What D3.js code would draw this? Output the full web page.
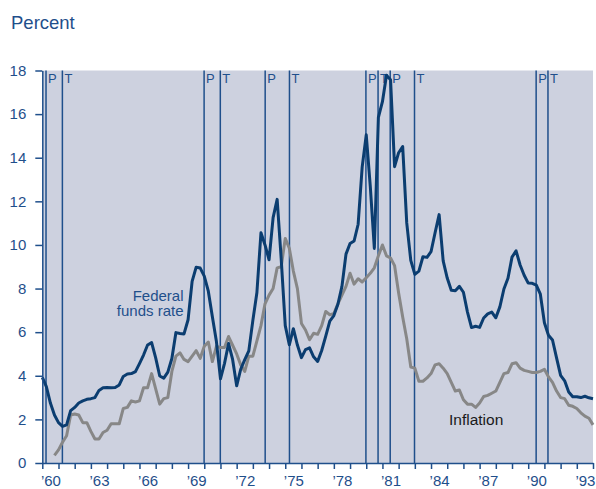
<!DOCTYPE html>
<html>
<head>
<meta charset="utf-8">
<script src="https://cdn.jsdelivr.net/npm/d3@7"></script>
<style>
  body { margin: 0; background: #fff; }
  svg { font-family: "Liberation Sans", Arial, Helvetica, sans-serif; }
</style>
</head>
<body>
<script>
// Quarterly federal funds rate, first point at 1960 Q1, last point at start of 1994.
const fundsStart = 1960;
const fundsRate = [
  3.93, 3.5, 2.75, 2.2,   1.85, 1.68, 1.75, 2.4,
  2.55, 2.75, 2.85, 2.92, 2.95, 3.0, 3.33, 3.45,
  3.46, 3.45, 3.46, 3.58, 3.97, 4.08, 4.1, 4.19,
  4.56, 4.95, 5.41, 5.52, 4.82, 3.99, 3.89, 4.17,
  4.79, 5.98, 5.94, 5.92, 6.57, 8.33, 8.98, 8.94,
  8.57, 7.88, 6.71, 5.57, 3.86, 4.57, 5.48, 4.75,
  3.54, 4.3, 4.74, 5.14, 6.54, 7.82, 10.56, 10.0,
  9.32, 11.25, 12.09, 9.35, 6.3, 5.42, 6.16, 5.41,
  4.83, 5.2, 5.28, 4.87, 4.66, 5.16, 5.82, 6.51,
  6.76, 7.28, 8.1, 9.58, 10.07, 10.18, 10.95, 13.58,
  15.05, 12.69, 9.84, 15.85, 16.57, 17.78, 17.58, 13.59,
  14.23, 14.51, 11.01, 9.29, 8.65, 8.8, 9.46, 9.43,
  9.69, 10.56, 11.39, 9.27, 8.48, 7.92, 7.9, 8.1,
  7.83, 6.92, 6.21, 6.27, 6.22, 6.65, 6.84, 6.92,
  6.66, 7.16, 7.98, 8.47, 9.44, 9.73, 9.08, 8.61,
  8.25, 8.24, 8.16, 7.74, 6.43, 5.86, 5.64, 4.82,
  4.02, 3.77, 3.26, 3.04, 3.04, 3.0, 3.06, 2.99,
  2.95
];

// Quarterly inflation, first point at 1960 Q4.
const inflationStart = 1960.75;
const inflation = [
  0.35,
  0.6, 0.95, 1.25, 2.2,   2.25, 2.2, 1.85, 1.85,
  1.45, 1.1, 1.1, 1.4,    1.5, 1.8, 1.8, 1.8,
  2.5, 2.55, 2.85, 2.8,   2.85, 3.45, 3.45, 4.1,
  3.4, 2.7, 2.95, 3.0,    4.2, 4.9, 5.05, 4.75,
  4.65, 4.9, 5.15, 4.8,   5.35, 5.55, 4.65, 5.35,
  5.3, 5.3, 5.8, 5.4,     5.0, 4.5, 4.2, 4.9,
  4.9, 5.6, 6.3, 7.3,     7.7, 8.0, 8.95, 9.0,
  10.3, 9.85, 8.8, 8.0,   6.4, 6.1, 5.65, 5.95,
  5.9, 6.3, 6.95, 6.8,    6.85, 7.3, 7.7, 8.1,
  8.7, 8.2, 8.45, 8.3,    8.5, 8.7, 8.95, 9.5,
  10.0, 9.5, 9.4, 9.05,   7.8, 6.7, 5.7, 4.4,
  4.35, 3.75, 3.75, 3.9,  4.1, 4.5, 4.55, 4.35,
  4.1, 3.7, 3.3, 3.35,    2.9, 2.7, 2.7, 2.55,
  2.75, 3.05, 3.1, 3.2,   3.3, 3.7, 4.1, 4.15,
  4.55, 4.6, 4.35, 4.25,  4.2, 4.15, 4.15, 4.2,
  4.3, 3.95, 3.7, 3.3,    3.0, 2.95, 2.65, 2.6,
  2.5, 2.3, 2.15, 2.05,   1.75
];

// Business cycle peaks (P) and troughs (T), in fractional years.
const peaks = [1960.23, 1969.99, 1973.76, 1979.98, 1981.48, 1990.49];
const troughs = [1961.24, 1970.99, 1975.26, 1980.73, 1982.98, 1991.22];

const yTicks = [0, 2, 4, 6, 8, 10, 12, 14, 16, 18];
const yearLabels = [1960, 1963, 1966, 1969, 1972, 1975, 1978, 1981, 1984, 1987, 1990, 1993];

const width = 596;
const height = 489;
const plotLeft = 42.3, plotRight = 593, plotTop = 70.5, plotBottom = 463;

const navy = "#0b3d70";
const axisBlue = "#1f4f8b";

const svg = d3.select("body").append("svg")
    .attr("width", width)
    .attr("height", height);

const x = d3.scaleLinear().domain([1960, 1994]).range([plotLeft, plotRight]);
const y = d3.scaleLinear().domain([0, 18]).range([plotBottom, plotTop]);

// plot background
svg.append("rect")
    .attr("x", plotLeft)
    .attr("y", plotTop)
    .attr("width", plotRight - plotLeft)
    .attr("height", plotBottom - plotTop)
    .attr("fill", "#cdd1df");

// title
svg.append("text")
    .attr("x", 11)
    .attr("y", 29)
    .attr("font-size", 18.5)
    .attr("fill", axisBlue)
    .text("Percent");

// cycle lines
const cycles = peaks.map(d => ({ t: d, label: "P" }))
    .concat(troughs.map(d => ({ t: d, label: "T" })));

svg.selectAll(".cycle")
    .data(cycles)
    .enter().append("line")
    .attr("class", "cycle")
    .attr("x1", d => x(d.t))
    .attr("x2", d => x(d.t))
    .attr("y1", plotTop)
    .attr("y2", plotBottom)
    .attr("stroke", axisBlue)
    .attr("stroke-width", 1.5);

svg.selectAll(".cycle-label")
    .data(cycles)
    .enter().append("text")
    .attr("class", "cycle-label")
    .attr("x", d => x(d.t) + 2)
    .attr("y", 82.5)
    .attr("font-size", 13)
    .attr("fill", axisBlue)
    .text(d => d.label);

// lines
const line = d3.line()
    .x(d => x(d[0]))
    .y(d => y(d[1]));

const fundsPts = fundsRate.map((v, i) => [fundsStart + i / 4, v]);
const inflPts = inflation.map((v, i) => [inflationStart + i / 4, v]);

svg.append("path")
    .datum(inflPts)
    .attr("d", line)
    .attr("fill", "none")
    .attr("stroke", "#878787")
    .attr("stroke-width", 3)
    .attr("stroke-linejoin", "round");

svg.append("path")
    .datum(fundsPts)
    .attr("d", line)
    .attr("fill", "none")
    .attr("stroke", navy)
    .attr("stroke-width", 3)
    .attr("stroke-linejoin", "round");

// axes
svg.append("g")
    .attr("transform", `translate(${plotLeft},0)`)
    .call(d3.axisLeft(y).tickValues(yTicks).tickSize(7).tickSizeOuter(0).tickPadding(9));

svg.append("g")
    .attr("transform", `translate(0,${plotBottom})`)
    .call(d3.axisBottom(x).tickValues(d3.range(1960, 1995)).tickSize(6).tickSizeOuter(0).tickFormat(""));

const xLabels = svg.append("g")
    .attr("transform", `translate(0,${plotBottom})`)
    .call(d3.axisBottom(x).tickValues(yearLabels.map(d => d + 0.5)).tickSize(0).tickPadding(12.5)
        .tickFormat(d => "\u2019" + String(Math.floor(d)).slice(2)));
xLabels.select(".domain").remove();

svg.selectAll(".tick line, .domain")
    .attr("stroke", axisBlue)
    .attr("stroke-width", 1.5);

svg.selectAll(".tick text")
    .attr("font-size", 15)
    .attr("font-family", "'Liberation Sans', Arial, sans-serif")
    .attr("fill", axisBlue);

// series labels
const fed = svg.append("text")
    .attr("text-anchor", "end")
    .attr("font-size", 15)
    .attr("fill", axisBlue);
fed.append("tspan").attr("x", 183.5).attr("y", 300.5).text("Federal");
fed.append("tspan").attr("x", 183.5).attr("y", 316).text("funds rate");

svg.append("text")
    .attr("x", 449)
    .attr("y", 425)
    .attr("font-size", 15.5)
    .attr("fill", "#1a1a1a")
    .text("Inflation");
</script>
</body>
</html>
